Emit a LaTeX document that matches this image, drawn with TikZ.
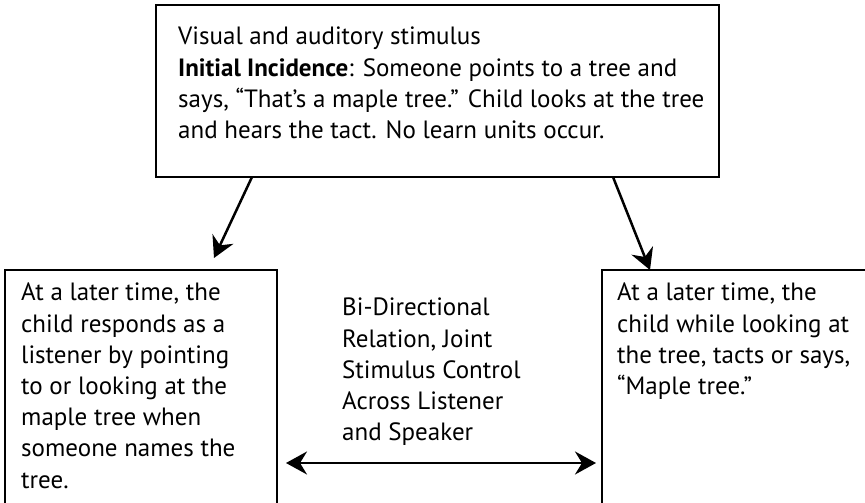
\documentclass[tikz,border=0pt]{standalone}
\usepackage{fontspec}
\setmainfont{PT Sans}
\usetikzlibrary{arrows.meta}
\begin{document}
\begin{tikzpicture}[x=1pt,y=-1pt,
  box/.style={draw=black, line width=2.6pt, inner sep=0pt, outer sep=0pt},
  txt/.style={anchor=north west, inner sep=0pt, align=left, font=\fontsize{25}{31.2}\selectfont},
  conn/.style={line width=2.5pt, -{Stealth[length=21pt,width=23pt,inset=7pt]}},
  bidir/.style={line width=2.5pt, {Stealth[length=21pt,width=23pt,inset=7pt]}-{Stealth[length=21pt,width=23pt,inset=7pt]}},
]
\path[use as bounding box] (0,0) rectangle (865,503);
\begin{scope}
\clip (0,0) rectangle (865,503);
\node[box, minimum width=563pt, minimum height=172pt] (top) at (437.5,91) {};
\node[box, minimum width=272pt, minimum height=270pt] (left) at (141,405) {};
\node[box, minimum width=298pt, minimum height=270pt] (right) at (751,405) {};
\end{scope}
\node[txt] (toptext) at (178,27) {Visual and auditory stimulus\\
\textbf{Initial Incidence}: Someone points to a tree and\\
says, “That’s a maple tree.” Child looks at the tree\\
and hears the tact. No learn units occur.};
\node[txt] (lefttext) at (21,283) {At a later time, the\\
child responds as a\\
listener by pointing\\
to or looking at the\\
maple tree when\\
someone names the\\
tree.};
\node[txt] (righttext) at (617,283) {At a later time, the\\
child while looking at\\
the tree, tacts or says,\\
“Maple tree.”};
\node[txt] (midtext) at (342,298) {Bi-Directional\\
Relation, Joint\\
Stimulus Control\\
Across Listener\\
and Speaker};
\draw[conn] ([xshift=96pt]top.south west) -- ([shift={(209pt,12pt)}]left.north west);
\draw[conn] ([xshift=457pt]top.south west) -- ([xshift=48pt]right.north west);
\draw[bidir] ([shift={(9pt,-193pt)}]left.north east) -- ([shift={(-6pt,-193pt)}]right.north west);
\end{tikzpicture}
\end{document}
